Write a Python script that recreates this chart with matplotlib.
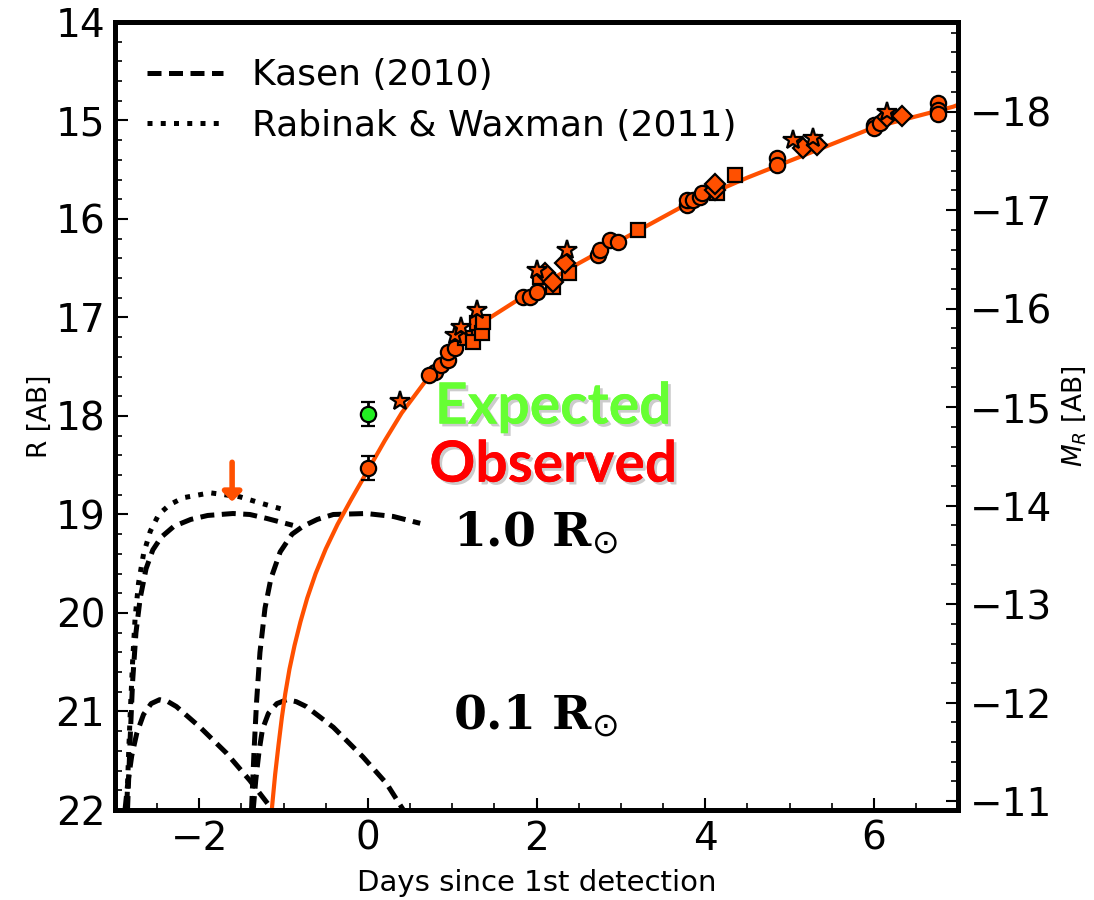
import matplotlib
matplotlib.use('Agg')
import matplotlib.pyplot as plt
import matplotlib.patheffects as pe
from matplotlib.ticker import MultipleLocator

# distance modulus linking apparent R to absolute M_R
DM = 32.91

# observed photometry (days since 1st detection, R mag)
circ_t = [0.80, 0.72, 0.87, 0.95, 0.95, 1.03, 1.84, 1.92, 2.0, 2.73, 2.75, 2.87, 2.97,
          3.78, 3.78, 3.86, 3.94, 3.96, 4.85, 4.85, 6.0, 6.0, 6.07, 6.76, 6.76, 6.76]
circ_R = [17.55, 17.58, 17.48, 17.43, 17.35, 17.31, 16.79, 16.79, 16.74, 16.37, 16.31, 16.21, 16.23,
          15.86, 15.81, 15.81, 15.78, 15.74, 15.38, 15.45, 15.05, 15.08, 15.03, 14.82, 14.89, 14.93]
star_t = [0.38, 1.03, 1.1, 1.29, 2.0, 2.36, 5.04, 5.28, 6.15]
star_R = [17.85, 17.18, 17.1, 16.92, 16.52, 16.31, 15.2, 15.18, 14.91]
sq_t = [1.15, 1.25, 1.29, 1.35, 1.37, 2.04, 2.2, 2.38, 3.2, 4.14, 4.35]
sq_R = [17.21, 17.25, 17.06, 17.16, 17.05, 16.59, 16.69, 16.55, 16.11, 15.74, 15.55]
dia_t = [2.1, 2.2, 2.34, 4.12, 4.12, 5.16, 5.32, 6.15, 6.33]
dia_R = [16.55, 16.64, 16.45, 15.71, 15.64, 15.28, 15.25, 14.96, 14.95]

# first-epoch points with error bars
first_t = 0.0
first_R = 18.53
first_err = 0.12
exp_t = 0.0
exp_R = 17.98
exp_err = 0.12

# fitted rise (orange curve)
fit_t = [-1.14, -1.1, -1.06, -1.02, -0.98, -0.93, -0.87, -0.8, -0.72, -0.62, -0.5, -0.36,
         -0.2, 0.0, 0.2, 0.4, 0.74, 1.0, 1.45, 2.0, 2.5, 3.2, 3.8, 4.5, 5.12, 6.0, 6.94, 7.0]
fit_R = [22.0, 21.64, 21.34, 21.06, 20.82, 20.57, 20.33, 20.09, 19.85, 19.6, 19.35, 19.1,
         18.85, 18.55, 18.25, 17.97, 17.58, 17.33, 17.0, 16.7, 16.45, 16.12, 15.84, 15.58,
         15.37, 15.07, 14.86, 14.84]

# shock cooling models
rw_t = [-2.86, -2.84, -2.82, -2.79, -2.76, -2.72, -2.66, -2.58, -2.48, -2.35, -2.19, -1.87,
        -1.52, -1.25, -1.0]
rw_R = [22.0, 21.5, 21.06, 20.5, 20.05, 19.7, 19.4, 19.17, 19.0, 18.9, 18.83, 18.78,
        18.82, 18.89, 18.95]
k10a_t = [-2.85, -2.82, -2.79, -2.75, -2.7, -2.63, -2.55, -2.45, -2.3, -2.1, -1.9, -1.6,
          -1.4, -1.2, -0.89]
k10a_R = [22.0, 21.3, 20.7, 20.2, 19.85, 19.55, 19.36, 19.23, 19.12, 19.05, 19.01, 18.99,
          19.0, 19.04, 19.11]
k10b_t = [-1.38, -1.35, -1.32, -1.28, -1.22, -1.15, -1.04, -0.9, -0.77, -0.6, -0.41, -0.02,
          0.3, 0.62]
k10b_R = [22.0, 21.4, 20.9, 20.4, 19.95, 19.65, 19.38, 19.2, 19.12, 19.05, 19.0, 18.99,
          19.02, 19.09]
k01a_t = [-2.88, -2.85, -2.8, -2.74, -2.66, -2.57, -2.47, -2.37, -2.27, -1.99, -1.68, -1.4, -1.13]
k01a_R = [22.0, 21.75, 21.45, 21.22, 21.03, 20.92, 20.88, 20.9, 20.95, 21.16, 21.42, 21.7, 22.0]
k01b_t = [-1.36, -1.33, -1.29, -1.25, -1.18, -1.08, -0.96, -0.85, -0.73, -0.41, -0.06, 0.22, 0.42]
k01b_R = [22.0, 21.7, 21.4, 21.18, 21.02, 20.92, 20.88, 20.9, 20.95, 21.16, 21.46, 21.73, 22.0]

orange = '#ff5000'

fig = plt.figure(figsize=(10.94, 9), dpi=100)
ax = fig.add_axes([0.105, 0.1, 0.771, 0.8756])

dash = (2.8, 1.5)
ax.plot(k10a_t, k10a_R, color='black', lw=3.6, ls='--', dashes=dash, label='Kasen (2010)')
ax.plot(rw_t, rw_R, color='black', lw=3.6, ls=':', label='Rabinak & Waxman (2011)')
ax.plot(k10b_t, k10b_R, color='black', lw=3.6, dashes=dash)
ax.plot(k01a_t, k01a_R, color='black', lw=3.6, dashes=dash)
ax.plot(k01b_t, k01b_R, color='black', lw=3.6, dashes=dash)

ax.plot(fit_t, fit_R, color=orange, lw=3, zorder=2)

mk = dict(color=orange, mec='black', mew=1.6, ls='none', zorder=3)
ax.plot(circ_t, circ_R, marker='o', ms=11, **mk)
ax.plot(sq_t, sq_R, marker='s', ms=10, **mk)
ax.plot(dia_t, dia_R, marker='D', ms=10, **mk)
ax.plot(star_t, star_R, marker='*', ms=15, **mk)
ax.errorbar(first_t, first_R, yerr=first_err, fmt='o', ms=11, color=orange, mec='black',
            mew=1.6, ecolor='black', elinewidth=2, capsize=5, capthick=2, zorder=4)
ax.errorbar(exp_t, exp_R, yerr=exp_err, fmt='o', ms=11, color='#22ee22', mec='black',
            mew=1.6, ecolor='black', elinewidth=2, capsize=5, capthick=2, zorder=4)

ax.annotate('', xy=(-1.61, 18.87), xytext=(-1.61, 18.47),
            arrowprops=dict(arrowstyle='-|>,head_width=0.55,head_length=0.55',
                            color=orange, lw=4, shrinkA=0, shrinkB=0))

shadow = [pe.withSimplePatchShadow(offset=(2, -2), shadow_rgbFace='gray', alpha=0.4), pe.Normal()]
ax.text(2.2, 17.91, 'Expected', color='#66ff33', fontsize=41, fontweight='bold',
        family='Lato', ha='center', va='center', path_effects=shadow)
ax.text(2.2, 18.5, 'Observed', color='#ff0000', fontsize=41, fontweight='bold',
        family='Lato', ha='center', va='center', path_effects=shadow)
ax.text(1.01, 19.19, r'1.0 R$_{\odot}$', fontsize=34, fontweight='bold',
        family='DejaVu Serif', ha='left', va='center')
ax.text(1.01, 21.04, r'0.1 R$_{\odot}$', fontsize=34, fontweight='bold',
        family='DejaVu Serif', ha='left', va='center')

ax.set_xlim(-3, 7)
ax.set_ylim(22, 14)
ax.xaxis.set_major_locator(MultipleLocator(2))
ax.xaxis.set_minor_locator(MultipleLocator(0.5))
ax.yaxis.set_major_locator(MultipleLocator(1))
ax.yaxis.set_minor_locator(MultipleLocator(0.2))
ax.tick_params(which='both', direction='in', top=False, right=False, labelsize=28, pad=7)
ax.tick_params(which='major', length=9, width=1.5)
ax.tick_params(which='minor', length=5, width=1.2)
ax.set_xlabel('Days since 1st detection', fontsize=21, labelpad=8)
ax.set_ylabel('R [AB]', fontsize=19, labelpad=2)
for s in ax.spines.values():
    s.set_linewidth(3.5)

leg = ax.legend(loc='upper left', frameon=False, fontsize=26, handlelength=2.1,
                handletextpad=0.8, labelspacing=0.45, bbox_to_anchor=(0, 0.995))

ax2 = ax.twinx()
ax2.set_ylim(22 - DM, 14 - DM)
ax2.yaxis.set_major_locator(MultipleLocator(1))
ax2.yaxis.set_minor_locator(MultipleLocator(0.2))
ax2.tick_params(which='both', direction='in', labelsize=28, pad=8)
ax2.tick_params(which='major', length=9, width=1.5)
ax2.tick_params(which='minor', length=5, width=1.2)
ax2.set_ylabel('$M_R$ [AB]', fontsize=19, labelpad=6)
for s in ax2.spines.values():
    s.set_linewidth(3.5)

fig.savefig('out.png', dpi=100)
